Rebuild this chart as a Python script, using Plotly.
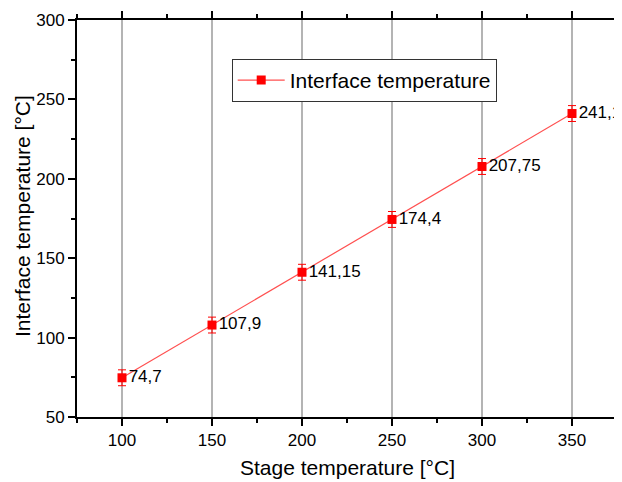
import plotly.graph_objects as go

stage_temp = [100, 150, 200, 250, 300, 350]
interface_temp = [74.7, 107.9, 141.15, 174.4, 207.75, 241.1]
err = [5, 5, 5, 5, 5, 5]
labels = ["74,7", "107,9", "141,15", "174,4", "207,75", "241,1"]

FONT = "Liberation Sans, Arial"

fig = go.Figure()
fig.add_trace(go.Scatter(
    x=stage_temp, y=interface_temp,
    mode="lines+markers+text",
    name="Interface temperature",
    line=dict(color="#ff5050", width=1.2),
    marker=dict(symbol="square", size=9, color="#ff0000"),
    error_y=dict(type="data", array=err, color="#ff0000", thickness=1, width=4),
    text=labels, textposition="middle right",
    textfont=dict(family=FONT, size=17, color="black"),
    cliponaxis=False,
))

axis_common = dict(
    showline=True, linecolor="black", linewidth=2, mirror="ticks",
    ticks="outside", ticklen=7, tickwidth=1.5, tickcolor="black",
    tickfont=dict(family=FONT, size=17, color="black"),
    zeroline=False, automargin=False,
)

fig.update_xaxes(
    range=[75, 375], tickvals=stage_temp,
    showgrid=True, gridcolor="#b4b4b4", gridwidth=1.5,
    minor=dict(ticks="outside", ticklen=4, tickcolor="black", dtick=50, tick0=75, showgrid=False),
    **axis_common,
)
fig.update_yaxes(
    range=[50, 300], dtick=50, tick0=50,
    showgrid=False,
    minor=dict(ticks="outside", ticklen=4, tickcolor="black", dtick=50, tick0=75, showgrid=False),
    **axis_common,
)

fig.add_annotation(
    text="Stage temperature [°C]", xref="paper", yref="paper",
    x=0.5, y=-0.128, xanchor="center", yanchor="middle", showarrow=False,
    font=dict(family=FONT, size=21, color="black"),
)
fig.add_annotation(
    text="Interface temperature [°C]", xref="paper", yref="paper",
    x=-0.102, y=0.506, xanchor="center", yanchor="middle", showarrow=False,
    textangle=-90, font=dict(family=FONT, size=21, color="black"),
)

# page body has an 8px default margin; size the figure so it fills the window
fig.update_layout(
    width=614, height=474,
    margin=dict(l=69, r=5, t=12, b=65),
    paper_bgcolor="white", plot_bgcolor="white",
    showlegend=True,
    legend=dict(
        x=0.2865, y=0.902, xanchor="left", yanchor="top",
        bordercolor="#333333", borderwidth=1, bgcolor="white",
        font=dict(family=FONT, size=21, color="black"),
        itemwidth=47, tracegroupgap=0,
    ),
)

fig.write_html("out.html")
